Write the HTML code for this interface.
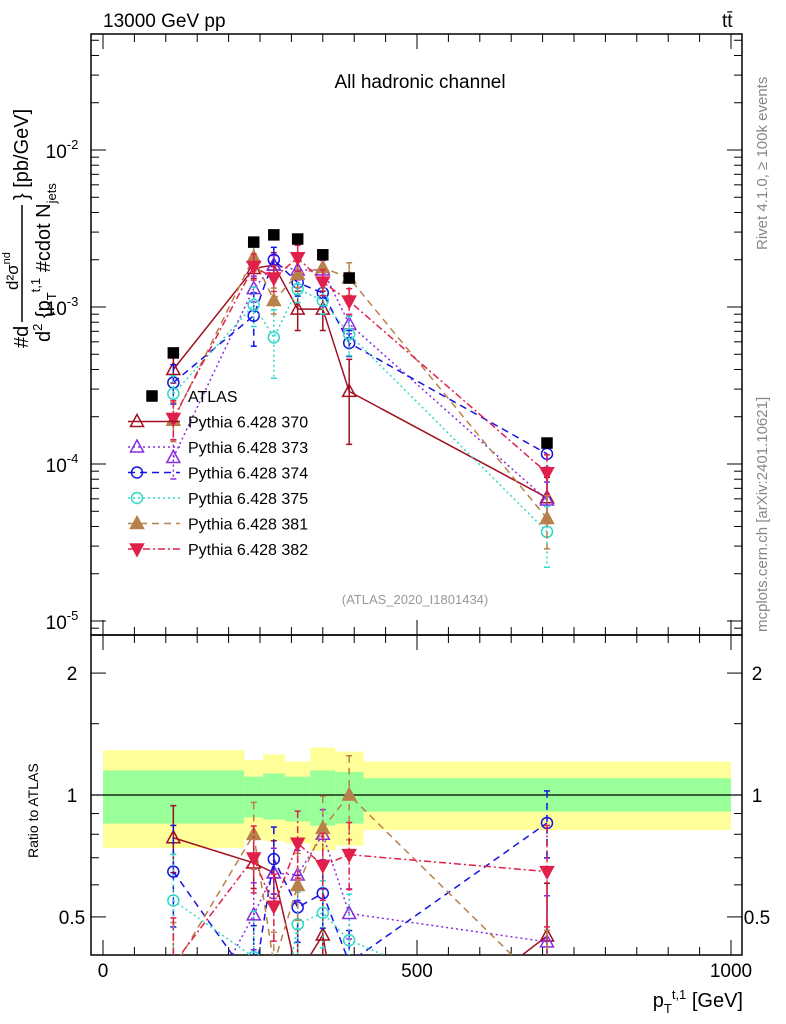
<!DOCTYPE html>
<html><head><meta charset="utf-8"><style>
html,body{margin:0;background:#fff;overflow:hidden;width:786px;height:1024px}
svg{font-family:"Liberation Sans",sans-serif;display:block;overflow:hidden}
</style></head><body>
<svg id="c" width="786" height="1024" viewBox="0 0 786 1024">
<defs>
<clipPath id="cm"><rect x="91" y="34" width="651" height="601"/></clipPath>
<clipPath id="cr"><rect x="91" y="635" width="651" height="320"/></clipPath>
</defs>
<text x="103" y="27" font-size="19">13000 GeV pp</text>
<text x="722" y="27" font-size="19">tt̄</text>
<text x="420" y="88" font-size="19" text-anchor="middle">All hadronic channel</text>
<text x="415" y="604" font-size="13" fill="#999" text-anchor="middle">(ATLAS_2020_I1801434)</text>
<text transform="translate(767,250) rotate(-90)" font-size="15" fill="#888">Rivet 4.1.0, ≥ 100k events</text>
<text transform="translate(767,632) rotate(-90)" font-size="15" fill="#888">mcplots.cern.ch [arXiv:2401.10621]</text>
<g font-size="20">
<text transform="translate(28,348) rotate(-90)">#d</text>
<text transform="translate(18,290) rotate(-90)" font-size="17">d²σ<tspan font-size="11" dy="-8">nd</tspan></text>
<line x1="22" y1="322" x2="22" y2="205" stroke="#000" stroke-width="1.5"/>
<text transform="translate(50,342) rotate(-90)">d<tspan font-size="13" dy="-8">2</tspan><tspan dy="8"> {p</tspan><tspan font-size="13" dy="6">T</tspan><tspan font-size="13" dy="-16">t,1</tspan><tspan dy="10"> #cdot N</tspan><tspan font-size="13" dy="6">jets</tspan></text>
<text transform="translate(28,200) rotate(-90)">} [pb/GeV]</text>
</g>
<text transform="translate(38,858) rotate(-90)" font-size="14">Ratio to ATLAS</text>
<text x="743" y="1007" font-size="20" text-anchor="end">p<tspan font-size="13" dy="6">T</tspan><tspan font-size="13" dy="-14">t,1</tspan><tspan dy="8"> [GeV]</tspan></text>
<g id="bands" clip-path="url(#cr)"></g>
<g id="axes"></g>
<g id="mainS" clip-path="url(#cm)"></g>
<g id="ratS" clip-path="url(#cr)"></g>
<g id="legend"></g>
</svg>
<script>
const xCenters=[112,240,272,310,350,392,707];
const binEdges=[0,225,255,290,330,370,415,1000];
const atlas=[5.1e-4,2.59e-3,2.88e-3,2.71e-3,2.15e-3,1.53e-3,1.36e-4];
const yelHi=[1.29,1.22,1.26,1.21,1.31,1.28,1.21];
const yelLo=[0.74,0.78,0.77,0.76,0.73,0.75,0.82];
const grnHi=[1.15,1.11,1.13,1.11,1.15,1.14,1.10];
const grnLo=[0.85,0.88,0.87,0.86,0.84,0.85,0.91];
const s370=[4.0e-4,1.76e-3,1.85e-3,9.7e-4,9.7e-4,2.9e-4,6.1e-5];
const s373=[1.1e-4,1.31e-3,1.85e-3,1.72e-3,1.72e-3,7.8e-4,5.9e-5];
const s374=[3.3e-4,8.8e-4,2.0e-3,1.43e-3,1.23e-3,5.9e-4,1.16e-4];
const s375=[2.8e-4,1.03e-3,6.4e-4,1.3e-3,1.1e-3,6.7e-4,3.7e-5];
const s381=[1.9e-4,2.07e-3,1.1e-3,1.62e-3,1.78e-3,1.53e-3,4.5e-5];
const s382=[1.95e-4,1.81e-3,1.53e-3,2.06e-3,1.44e-3,1.09e-3,8.8e-5];
const e370=[0.2,0.15,0.2,0.3,0.3,0.6,0.35];
const e373=[0.3,0.2,0.15,0.15,0.15,0.15,0.3];
const e374=[0.3,0.4,0.2,0.2,0.2,0.2,0.2];
const e375=[0.3,0.3,0.5,0.2,0.2,0.3,0.45];
const e381=[0.3,0.2,0.2,0.2,0.2,0.25,0.4];
const e382=[0.3,0.2,0.2,0.2,0.2,0.2,0.3];
const X=v=>103+v*0.628;
const YM=v=>150+157*(-Math.log10(v)-2);
const YR=r=>795-405*Math.log10(r);
const NS="http://www.w3.org/2000/svg";
function mk(t,a,p){const e=document.createElementNS(NS,t);for(const k in a)e.setAttribute(k,a[k]);p.appendChild(e);return e;}
const bands=document.getElementById('bands');
for(let i=0;i<7;i++){
 const x0=X(binEdges[i]),x1=X(binEdges[i+1]);
 const y=mk('rect',{x:x0,y:YR(yelHi[i]),width:x1-x0,height:YR(yelLo[i])-YR(yelHi[i]),fill:'#ffff99'},bands);
 
 
 const g=mk('rect',{x:x0,y:YR(grnHi[i]),width:x1-x0,height:YR(grnLo[i])-YR(grnHi[i]),fill:'#99ff99'},bands);
 
 
}
const ax=document.getElementById('axes');
const L=(a,b,c,d,w)=>mk('line',{x1:a,y1:b,x2:c,y2:d,stroke:'#000','stroke-width':w||1},ax);
mk('rect',{x:91,y:34,width:651,height:601,fill:'none',stroke:'#000','stroke-width':1.5},ax);
mk('rect',{x:91,y:635,width:651,height:320,fill:'none',stroke:'#000','stroke-width':1.5},ax);
L(91,795,742,795,1.2);
for(let v=0;v<=1000;v+=50){const x=X(v),m=v%500==0;
 L(x,34,x,34+(m?15:8));L(x,635,x,635-(m?15:8));L(x,635,x,635+(m?15:8));L(x,955,x,955-(m?15:8));}
[0,500,1000].forEach(v=>{const t=mk('text',{x:X(v),y:977,'font-size':19,'text-anchor':'middle'},ax);t.textContent=v;
 });
for(let d=-6;d<=-1;d++)for(let k=1;k<10;k++){const v=k*Math.pow(10,d),y=YM(v);if(y<34||y>635)continue;
 const l=k==1?15:8;L(91,y,91+l,y);L(742,y,742-l,y);}
[[-2,150],[-3,307],[-4,464],[-5,621]].forEach(([d,y])=>{const t=mk('text',{x:62,y:y+8,'font-size':19,'text-anchor':'middle'},ax);
 t.innerHTML='10<tspan font-size="13" dy="-9">'+d+'</tspan>';});
[0.5,0.6,0.7,0.8,0.9,1,1.5,2].forEach(r=>{const y=YR(r),l=(r==1||r==2||r==0.5)?15:8;L(91,y,91+l,y);L(742,y,742-l,y);});
[[2,'2'],[1,'1'],[0.5,'0.5']].forEach(([r,s])=>{[72,757].forEach(x=>{const t=mk('text',{x:x,y:YR(r)+7,'font-size':19,'text-anchor':'middle'},ax);t.textContent=s;
 });});
const series=[
 {n:'Pythia 6.428 370',v:s370,e:e370,c:'#a01020',d:'',m:'tri',f:false},
 {n:'Pythia 6.428 373',v:s373,e:e373,c:'#8a2be2',d:'2,3',m:'tri',f:false},
 {n:'Pythia 6.428 374',v:s374,e:e374,c:'#1414e6',d:'7,5',m:'circ',f:false},
 {n:'Pythia 6.428 375',v:s375,e:e375,c:'#30d8c8',d:'2,3',m:'circ',f:false},
 {n:'Pythia 6.428 381',v:s381,e:e381,c:'#b8804a',d:'7,5',m:'tri',f:true},
 {n:'Pythia 6.428 382',v:s382,e:e382,c:'#e0204a',d:'7,3,2,3',m:'dtri',f:true}];
function marker(g,m,x,y,c,f){let e;
 if(m=='tri')e=mk('polygon',{points:`${x},${y-7} ${x-6.5},${y+5} ${x+6.5},${y+5}`},g);
 else if(m=='dtri')e=mk('polygon',{points:`${x},${y+7} ${x-6.5},${y-5} ${x+6.5},${y-5}`},g);
 else if(m=='sq')e=mk('rect',{x:x-5,y:y-5,width:10,height:10},g);
 else e=mk('circle',{cx:x,cy:y,r:5.5},g);
 e.setAttribute('fill',f?c:'none');e.setAttribute('stroke',c);e.setAttribute('stroke-width',1.5);return e;}
const mainS=document.getElementById('mainS'),ratS=document.getElementById('ratS');
series.forEach(s=>{
 [[mainS,i=>YM(s.v[i]),(i,k)=>YM(s.v[i]*(1+k*s.e[i]))],[ratS,i=>YR(s.v[i]/atlas[i]),(i,k)=>YR(s.v[i]/atlas[i]*(1+k*s.e[i]))]].forEach(([p,fy,fe])=>{
  const g=mk('g',{},p);
  
  
  mk('polyline',{points:s.v.map((v,i)=>X(xCenters[i])+','+fy(i)).join(' '),fill:'none',stroke:s.c,'stroke-width':1.5,'stroke-dasharray':s.d},g);
  s.v.forEach((v,i)=>{const x=X(xCenters[i]);
   mk('line',{x1:x,y1:fe(i,1),x2:x,y2:fe(i,-0.9),stroke:s.c,'stroke-width':1.5,'stroke-dasharray':s.d},g);
   mk('line',{x1:x-3,y1:fe(i,1),x2:x+3,y2:fe(i,1),stroke:s.c,'stroke-width':1.5},g);
   mk('line',{x1:x-3,y1:fe(i,-0.9),x2:x+3,y2:fe(i,-0.9),stroke:s.c,'stroke-width':1.5},g);
   const mm=marker(g,s.m,x,fy(i),s.c,s.f);
   
   });
 });});
const ag=mk('g',{},mainS);


atlas.forEach((v,i)=>{const p=marker(ag,'sq',X(xCenters[i]),YM(v),'#000',true);
 
 });
const lg=document.getElementById('legend');
const rows=[{n:'ATLAS',m:'sq',c:'#000',f:true,d:null}].concat(series);
rows.forEach((s,i)=>{const y=396+i*25.5;const g=mk('g',{},lg);
 
 
 if(s.d!==null)mk('line',{x1:128,y1:y,x2:180,y2:y,stroke:s.c,'stroke-width':1.5,'stroke-dasharray':s.d},g);
 marker(g,s.m,s.m=='sq'?152:137,y,s.c,s.f);
 const t=mk('text',{x:188,y:y+6,'font-size':16},g);t.textContent=s.n;});
</script>
</body></html>
